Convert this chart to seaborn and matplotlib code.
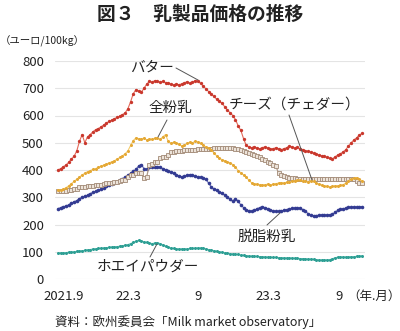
import numpy as np
import pandas as pd
import matplotlib
matplotlib.use("Agg")
import matplotlib.pyplot as plt
import matplotlib.transforms as mtransforms
from matplotlib.lines import Line2D
import seaborn as sns

# ---- data (EUR / 100kg, weekly from Sep 2021) ----
butter = [400,405,412,418,428,440,450,470,505,530,
          500,522,530,540,548,552,558,565,572,578,
          583,588,593,598,603,610,625,650,680,695,
          690,685,700,715,725,722,728,725,722,725,
          720,718,715,712,715,713,716,720,724,718,
          722,728,726,718,708,698,688,678,670,660,
          652,645,632,620,610,600,585,562,545,515,
          490,484,482,486,480,478,482,485,480,476,
          478,482,478,475,478,482,488,485,480,483,
          478,475,470,468,466,462,458,455,452,450,
          446,443,441,448,455,460,466,475,488,500,
          510,518,528,534]
skim = [258,262,265,268,272,278,283,288,295,300,
        303,308,313,318,322,326,330,335,340,344,
        348,352,357,362,368,374,380,388,395,402,
        415,420,405,402,410,412,410,412,410,405,
        400,397,394,388,382,378,375,377,381,383,
        380,377,375,373,372,366,352,338,330,325,
        320,315,308,302,292,285,295,285,272,262,
        255,250,248,252,258,262,265,262,258,254,
        250,248,248,250,252,255,257,259,260,261,
        260,255,248,240,234,232,233,234,235,234,
        235,236,237,245,252,256,258,260,263,264,
        265,264,265,265]
wmp = [328,326,330,335,342,350,358,366,374,382,
       388,394,398,402,405,410,414,418,422,426,
       430,434,440,446,452,460,470,490,508,518,
       515,512,518,510,514,512,516,518,512,522,
       530,505,498,502,500,494,488,492,498,502,
       500,505,503,498,490,485,480,474,462,452,
       444,438,434,430,426,420,410,398,390,382,
       374,362,353,350,348,346,345,346,348,345,
       348,350,352,354,352,355,357,358,360,362,
       364,360,358,357,360,358,352,348,345,342,
       340,338,340,342,342,344,346,352,360,366,
       370,372,366,360]
cheese = [324,324,324,324,326,326,332,332,336,336,
          338,340,342,342,346,346,346,350,352,352,
          354,356,356,360,362,364,376,380,382,388,
          390,388,372,375,420,422,428,428,445,446,
          448,455,465,467,468,470,471,472,474,475,
          475,475,476,476,477,478,478,478,479,480,
          480,481,481,480,480,479,478,476,474,470,
          466,462,458,455,450,446,442,436,430,425,
          420,415,388,380,378,375,372,370,369,368,
          368,368,368,368,368,368,368,368,368,368,
          368,368,368,368,368,368,368,368,368,368,
          366,358,353,353]
whey = [95,96,96,97,98,99,100,101,103,104,
        105,107,108,110,111,112,113,114,115,116,
        117,118,119,120,122,124,126,130,134,138,
        142,140,136,134,132,130,132,133,130,125,
        120,116,114,112,111,110,110,111,110,112,
        112,113,114,114,113,110,108,106,104,102,
        100,98,96,95,93,92,91,90,88,87,
        86,85,84,83,83,82,82,81,80,80,
        79,79,78,78,78,77,77,77,76,76,
        75,75,74,73,73,72,71,70,70,70,
        70,71,74,78,80,81,81,80,81,82,
        82,83,84,85]

tick_pos = [0, 6, 12, 18, 24]
tick_labels = ["2021.9", "22.3", "9", "23.3", "9"]

weeks = np.arange(len(butter))
months = weeks * 7 / 30.4375

sns.set_theme(style="white")
plt.rcParams["font.family"] = ["Noto Sans CJK JP", "DejaVu Sans"]

W, H = 400, 331
fig = plt.figure(figsize=(W / 100, H / 100), dpi=100)
ax = fig.add_axes([55 / W, (H - 279) / H, 310 / W, 218 / H])

def fp(x, y):
    return (x / W, 1 - y / H)

# series
sns.lineplot(x=months, y=whey, ax=ax, color="#6cc6bc", lw=0.8, marker="o",
             markersize=2.2, markeredgewidth=0, markerfacecolor="#2e9f94")
sns.lineplot(x=months, y=skim, ax=ax, color="#6468b5", lw=0.8, marker="o",
             markersize=2.6, markeredgewidth=0, markerfacecolor="#333b92")
sns.lineplot(x=months, y=cheese, ax=ax, color="#b09a88", lw=0.9, marker="s",
             markersize=3.2, markeredgewidth=0.6, markerfacecolor="#ece3d9",
             markeredgecolor="#a28a77")
sns.lineplot(x=months, y=wmp, ax=ax, color="#f6cc6a", lw=0.8, marker="o",
             markersize=2.2, markeredgewidth=0, markerfacecolor="#e4a835")
sns.lineplot(x=months, y=butter, ax=ax, color="#e46a5a", lw=0.8, marker="o",
             markersize=2.4, markeredgewidth=0, markerfacecolor="#c9382d")

ax.set_xlim(-0.25, 26.25)
ax.set_ylim(0, 800)
ax.set_yticks(range(0, 801, 100))
ax.set_xticks(tick_pos)
ax.set_xticklabels(tick_labels)
ax.set_xlabel("")
ax.set_ylabel("")
for s in ax.spines.values():
    s.set_visible(False)
ax.yaxis.grid(True, color="#e4e4e4", lw=0.8)
ax.xaxis.grid(False)
ax.set_axisbelow(True)
ax.tick_params(axis="both", length=0, labelsize=9.5, colors="#222222")
ax.tick_params(axis="y", pad=8)
ax.tick_params(axis="x", pad=8)
first = ax.get_xticklabels()[0]
first.set_transform(first.get_transform() +
                    mtransforms.ScaledTranslation(6 / 100, 0, fig.dpi_scale_trans))

# texts
fig.text(*fp(200, 14), "図３　乳製品価格の推移", ha="center", va="center",
         fontsize=13.5, fontweight="bold", color="#222222")
fig.text(*fp(0, 41), "（ユーロ/100kg）", ha="left", va="center",
         fontsize=7.5, color="#222222")
fig.text(*fp(347, 296), "（年.月）", ha="left", va="center",
         fontsize=9, color="#222222")
fig.text(*fp(55, 322), "資料：欧州委員会「Milk market observatory」",
         ha="left", va="center", fontsize=9, color="#222222")

labels = [
    ("バター", 152, 68, (176, 68), (198, 80)),
    ("全粉乳", 170, 108, (167, 120), (158, 137)),
    ("チーズ（チェダー）", 295, 105, (289, 115), (312, 180)),
    ("脱脂粉乳", 267, 237, (267, 225), (280, 213)),
    ("ホエイパウダー", 148, 267, (150, 257), (157, 244)),
]
for txt, tx, ty, p0, p1 in labels:
    fig.text(*fp(tx, ty), txt, ha="center", va="center", fontsize=10.5,
             color="#222222")
    a, b = fp(*p0)
    c, d = fp(*p1)
    fig.add_artist(Line2D([a, c], [b, d], transform=fig.transFigure,
                          color="#555555", lw=0.7))

fig.savefig("out.png", dpi=100)
